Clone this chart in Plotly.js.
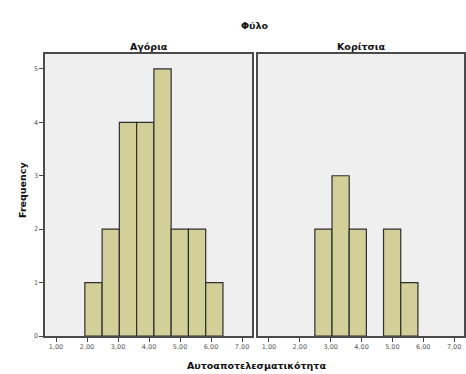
<!DOCTYPE html>
<html>
<head>
<meta charset="utf-8">
<script src="https://cdn.plot.ly/plotly-3.0.1.min.js"></script>
<style>html,body{margin:0;padding:0;background:#fff;}#chart{width:466px;height:374px;}</style>
</head>
<body>
<div id="chart"></div>
<script>
// Data
const binEdges = [1.93, 2.487, 3.043, 3.6, 4.157, 4.713, 5.27, 5.827, 6.383];
const boysCounts = [1, 2, 4, 4, 5, 2, 2, 1];
const girlsCounts = [0, 2, 3, 2, 0, 2, 1, 0];
const tickValues = [1, 2, 3, 4, 5, 6, 7];
const tickLabels = ["1,00", "2,00", "3,00", "4,00", "5,00", "6,00", "7,00"];
const yTickValues = [0, 1, 2, 3, 4, 5];
const panelNames = ["Αγόρια", "Κορίτσια"];
const mainTitle = "Φύλο";
const xTitle = "Αυτοαποτελεσματικότητα";
const yTitle = "Frequency";

function binTrace(counts, xa, ya) {
  const xs = [], ys = [], ws = [];
  counts.forEach((c, i) => {
    if (c > 0) {
      xs.push((binEdges[i] + binEdges[i + 1]) / 2);
      ws.push(binEdges[i + 1] - binEdges[i]);
      ys.push(c);
    }
  });
  return {type: 'bar', x: xs, y: ys, width: ws, xaxis: xa, yaxis: ya,
    marker: {color: '#d3cf98', line: {color: '#2e2e2e', width: 1.2}}};
}
const traces = [binTrace(boysCounts, 'x', 'y'), binTrace(girlsCounts, 'x2', 'y2')];

const W = 466, H = 374;
const tickFont = {family: 'DejaVu Sans, sans-serif', size: 6.5, color: '#555'};
const titleFont = {family: 'DejaVu Sans, sans-serif', size: 9.5, color: '#111', weight: 'bold'};
const xBase = {
  range: [0.645, 7.32], tickvals: tickValues, ticktext: tickLabels, ticks: 'outside', ticklen: 4,
  tickcolor: '#444', tickwidth: 1, showgrid: false, zeroline: false, showline: true, mirror: true,
  linecolor: '#4a4a4a', linewidth: 1.6, tickfont: tickFont, fixedrange: true
};
const yBase = {
  range: [0, 5.28], tickvals: yTickValues, ticks: 'outside', ticklen: 4, tickcolor: '#444',
  showgrid: false, zeroline: false, showline: true, mirror: true, linecolor: '#4a4a4a', linewidth: 1.6,
  tickfont: tickFont, domain: [38 / H, 320 / H], fixedrange: true
};

const layout = {
  width: W, height: H,
  margin: {l: 0, r: 0, t: 0, b: 0},
  paper_bgcolor: '#ffffff',
  plot_bgcolor: '#efefef',
  showlegend: false,
  bargap: 0,
  xaxis: Object.assign({}, xBase, {domain: [45 / W, 252 / W], anchor: 'y'}),
  yaxis: Object.assign({}, yBase, {anchor: 'x'}),
  xaxis2: Object.assign({}, xBase, {domain: [258 / W, 464 / W], anchor: 'y2'}),
  yaxis2: Object.assign({}, yBase, {anchor: 'x2', showticklabels: false, ticks: ''}),
  annotations: [
    {text: mainTitle, xref: 'paper', yref: 'paper', x: 255 / W, y: 1 - 25 / H, showarrow: false, font: titleFont, xanchor: 'center', yanchor: 'middle'},
    {text: panelNames[0], xref: 'paper', yref: 'paper', x: 149 / W, y: 1 - 46 / H, showarrow: false, font: titleFont, xanchor: 'center', yanchor: 'middle'},
    {text: panelNames[1], xref: 'paper', yref: 'paper', x: 361 / W, y: 1 - 46 / H, showarrow: false, font: titleFont, xanchor: 'center', yanchor: 'middle'},
    {text: xTitle, xref: 'paper', yref: 'paper', x: 256 / W, y: 1 - 365 / H, showarrow: false, font: titleFont, xanchor: 'center', yanchor: 'middle'},
    {text: yTitle, xref: 'paper', yref: 'paper', x: 22 / W, y: 1 - 190 / H, showarrow: false, font: titleFont, textangle: -90, xanchor: 'center', yanchor: 'middle'}
  ]
};

Plotly.newPlot('chart', traces, layout, {displayModeBar: false, staticPlot: true});
</script>
</body>
</html>
